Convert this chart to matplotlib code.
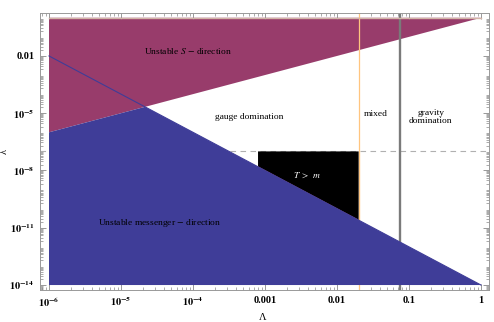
import matplotlib
matplotlib.use("Agg")
import matplotlib.pyplot as plt
import numpy as np

plt.rcParams['font.family'] = ['Liberation Serif', 'DejaVu Serif']
plt.rcParams['mathtext.fontset'] = 'stix'

# --- data ---
Lam_range = [1e-6, 1.0]
lam_top = 1.0                      # upper edge of the S-unstable region
lam_bottom = 1e-14                 # lower edge of the plotted regions
S_line_lam = [1e-6, 1.0]           # boundary of S-unstable region (lambda = Lambda)
mess_line_lam = [1e-2, 1e-14]      # messenger-unstable boundary
cross_point = (2.15e-5, 2.15e-5)   # where the two boundaries meet
lam_dash = 1e-7                    # dashed horizontal line
Tm_Lam = [8e-4, 0.02]              # T > m box, Lambda extent
Tm_lam_low = [1.56e-8, 2.5e-11]    # box bottom on messenger line
Lam_mixed = 0.02                   # orange line (gauge / mixed)
Lam_grav = 0.075                   # gray line (mixed / gravity)

xticks = [1e-6, 1e-5, 1e-4, 1e-3, 1e-2, 1e-1, 1]
xticklabels = [r'$\mathbf{10^{-6}}$', r'$\mathbf{10^{-5}}$', r'$\mathbf{10^{-4}}$',
               '0.001', '0.01', '0.1', '1']
yticks = [1e-14, 1e-11, 1e-8, 1e-5, 1e-2]
yticklabels = [r'$\mathbf{10^{-14}}$', r'$\mathbf{10^{-11}}$', r'$\mathbf{10^{-8}}$',
               r'$\mathbf{10^{-5}}$', '0.01']

purple = '#983C6B'
blue = '#3F3D98'
orange = '#ffc57f'

fig = plt.figure(figsize=(4.94, 3.22), dpi=100)
ax = fig.add_axes([40/494, 1-290/322, (489-40)/494, (290-13)/322])
ax.set_xscale('log')
ax.set_yscale('log')
ax.set_xlim(10**-6.125, 10**0.111)
ax.set_ylim(10**-14.26, 10**0.25)

# purple region: S unstable
ax.fill([Lam_range[0], Lam_range[1], Lam_range[0]],
        [S_line_lam[0], lam_top, lam_top], color=purple, lw=0, zorder=1)

# reference lines
ax.axhline(lam_dash, color='#b0b0b0', lw=0.8, ls=(0, (5, 4)), zorder=1.5)
ax.axvline(Lam_mixed, color=orange, lw=0.9, zorder=1.6)
ax.axvline(Lam_grav, color='#7a7a7a', lw=1.7, zorder=1.7)

# T > m box
ax.fill([Tm_Lam[0], Tm_Lam[1], Tm_Lam[1], Tm_Lam[0]],
        [lam_dash, lam_dash, Tm_lam_low[1], Tm_lam_low[0]],
        color='black', lw=0, zorder=2)
ax.plot([Tm_Lam[0], Tm_Lam[1]], Tm_lam_low, color='#b04040', lw=0.6, zorder=2.1)
ax.plot([Tm_Lam[1], Tm_Lam[1]], [Tm_lam_low[1], lam_dash], color=orange, lw=0.8, zorder=2.1)

# blue region: messenger unstable
ax.fill([Lam_range[0], cross_point[0], Lam_range[1], Lam_range[0]],
        [S_line_lam[0], cross_point[1], mess_line_lam[1], lam_bottom],
        color=blue, lw=0, zorder=3)
ax.plot(Lam_range, mess_line_lam, color=blue, lw=0.8, zorder=3.1)
ax.plot(Lam_range, [lam_top, lam_top], color='#d2b4a6', lw=1.0, zorder=3.2)

# texts
fs = 6.8
ax.text(8.5e-5, 10**-1.74, r'Unstable $S$ $-$ direction', fontsize=fs, ha='center', va='center', zorder=5)
ax.text(6.0e-4, 10**-5.19, 'gauge domination', fontsize=fs, ha='center', va='center', zorder=5)
ax.text(0.035, 10**-5.04, 'mixed', fontsize=fs, ha='center', va='center', zorder=5)
ax.text(0.2, 10**-5.2, 'gravity\ndomination', fontsize=fs, ha='center', va='center',
        linespacing=1.0, zorder=5)
ax.text(3.8e-3, 10**-8.23, r'$T\ >\ m$', fontsize=fs, ha='center', va='center', color='white', zorder=5)
ax.text(3.4e-5, 10**-10.74, r'Unstable messenger $-$ direction', fontsize=fs, ha='center', va='center', zorder=5)

# ticks / frame
ax.set_xticks(xticks)
ax.set_xticklabels(xticklabels)
ax.set_yticks(yticks)
ax.set_yticklabels(yticklabels)
ax.yaxis.set_minor_locator(matplotlib.ticker.LogLocator(base=10, subs=np.arange(2, 10)*1.0, numticks=100))
ax.xaxis.set_minor_locator(matplotlib.ticker.LogLocator(base=10, subs=np.arange(2, 10)*1.0, numticks=100))
ax.yaxis.set_minor_formatter(matplotlib.ticker.NullFormatter())
ax.xaxis.set_minor_formatter(matplotlib.ticker.NullFormatter())
ax.tick_params(which='both', direction='in', top=True, right=True, color='#888888',
               labelsize=7.5, pad=4)
ax.tick_params(which='major', length=4, width=0.6)
ax.tick_params(which='minor', length=2, width=0.5)
for lab in ax.get_xticklabels() + ax.get_yticklabels():
    lab.set_fontweight('bold')
for s in ax.spines.values():
    s.set_color('#999999')
    s.set_linewidth(0.7)

ax.set_xlabel('Λ', fontsize=7.5)
ax.set_ylabel('λ', fontsize=7.5)
ax.xaxis.set_label_coords((263-40)/449, -(313-290)/277)
ax.yaxis.set_label_coords(-(40-9)/449, (290-151)/277)

fig.savefig('out.png', dpi=100)
